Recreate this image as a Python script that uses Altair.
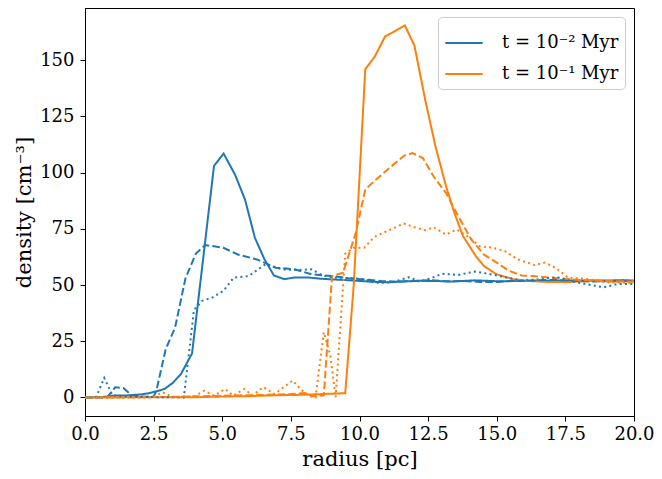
import altair as alt
import pandas as pd

# ---- data ----
blue_solid_r = [0, 0.8, 1.0, 1.5, 2.0, 2.3, 2.6, 2.9, 3.2, 3.5, 3.9, 4.7, 5.05, 5.47, 5.83, 6.19, 6.54, 6.88,
                7.26, 7.64, 8.1, 8.6, 9.2, 9.8, 10.4, 11.0, 11.6, 12.2, 12.8, 13.4, 14.2, 15.0, 15.8, 16.6,
                17.4, 18.2, 19.0, 19.6, 20.0]
blue_solid_d = [0, 0.3, 0.8, 0.9, 1.3, 1.8, 2.7, 3.8, 6.5, 10.5, 19.6, 103, 108.5, 99, 88, 71, 61.4, 54.3,
                52.6, 53.4, 53.4, 52.8, 52.4, 52.0, 51.5, 51.2, 51.6, 51.9, 51.8, 51.6, 52.1, 51.7, 51.8, 51.9,
                52.0, 52.0, 52.0, 52.2, 52.0]

blue_dashed_r = [0, 0.8, 1.1, 1.4, 1.7, 2.0, 2.5, 2.6, 2.94, 3.28, 3.66, 4.04, 4.38, 5.04, 5.57, 6.26, 6.95,
                 7.64, 8.25, 9.0, 9.6, 10.2, 10.8, 11.4, 12.0, 12.6, 13.2, 13.8, 14.4, 15.0, 15.6, 16.2,
                 17.0, 17.6, 18.4, 19.2, 20.0]
blue_dashed_d = [0, 0, 4.5, 4.2, 1.0, 0.5, 0.3, 3, 21.5, 31, 53, 64, 67.8, 66.6, 63.6, 61.4, 57.7,
                 57, 54.8, 54, 53, 52.5, 51.8, 51.5, 51.8, 52.2, 51.6, 51.8, 51.4, 51.4, 51.8, 52.0,
                 52.3, 52.0, 51.6, 51.8, 51.8]

blue_dotted_r = [0, 0.4, 0.7, 1.0, 1.3, 2.0, 3.0, 3.6, 3.97, 4.27, 4.65, 5.04, 5.42, 5.96, 6.57, 7.18, 7.72,
                 8.25, 8.7, 9.17, 9.8, 10.2, 10.6, 11.2, 11.8, 12.2, 12.6, 13.0, 13.6, 14.2, 14.7, 15.3,
                 15.9, 16.5, 17.2, 17.8, 18.3, 18.9, 19.4, 20.0]
blue_dotted_d = [0, 0, 8.7, 1, 0.5, 0.2, 0.1, 0, 39, 43, 44.5, 47.4, 53.3, 54, 59.2, 57, 56.7,
                 57, 54, 53.3, 53, 52.5, 51, 51.2, 53.5, 51.5, 53, 55, 54.5, 56, 55, 53.5,
                 52, 52.5, 53.5, 51.5, 50.3, 49, 50.5, 50.5]

orange_solid_r = [0, 4.0, 5.0, 6.0, 7.0, 8.0, 8.6, 9.48, 9.79, 10.21, 10.55, 10.93, 11.24, 11.65, 12.0, 12.4,
                  12.77, 13.15, 13.46, 13.77, 14.23, 14.53, 14.99, 15.6, 16.2, 16.8, 17.5, 18.4, 19.2, 20.0]
orange_solid_d = [0, 0.1, 0.4, 0.6, 1.0, 1.2, 1.5, 1.9, 50, 146, 151.5, 160.6, 162.6, 165.5, 156.6, 132,
                  111.6, 94, 82, 71.8, 63, 58.5, 54.8, 52.6, 51.8, 51.4, 51.3, 51.8, 51.6, 51.7]

orange_dashed_r = [0, 3.0, 4.5, 5.5, 6.5, 7.5, 8.0, 8.3, 8.7, 9.0, 9.4, 9.86, 10.21, 10.7, 11.16, 11.62, 11.93,
                   12.31, 12.7, 13.15, 13.6, 14.07, 14.53, 15.0, 15.45, 15.9, 16.7, 17.4, 18.0, 19.0, 20.0]
orange_dashed_d = [0, 0.2, 0.6, 0.9, 1.1, 1.5, 2.0, 0.5, 0.9, 54, 55.5, 73, 92.5, 98, 102.8, 107.5, 108.7,
                   106.5, 98.3, 91, 80.6, 70.3, 63.6, 60, 56.3, 54.3, 53.6, 52.9, 52.2, 51.8, 51.5]

orange_dotted_r = [0, 2.5, 2.8, 3.2, 4.0, 4.35, 4.7, 5.1, 5.4, 5.8, 6.1, 6.5, 6.9, 7.56, 7.95, 8.2, 8.4, 8.7,
                   8.94, 9.13, 9.48, 9.79, 10.17, 10.55, 11.0, 11.62, 12.0, 12.39, 12.7, 13.15, 13.54, 13.92,
                   14.38, 14.84, 15.3, 15.76, 16.37, 16.75, 17.14, 17.6, 18.36, 19.0, 20.0]
orange_dotted_d = [0, 0, 2.4, 0.3, 0.5, 3, 0.8, 3.8, 0.8, 3.8, 0.9, 4.6, 1.5, 7.5, 2.6, 0.5, 0, 29,
                   18.6, 0, 64, 66.6, 66.6, 71.5, 74, 77.4, 75.7, 74.4, 75.7, 72.5, 74.7, 71.8,
                   67.3, 66.6, 65.1, 61.4, 58.9, 60, 57.7, 53.3, 52.6, 51.2, 51.0]

t_labels = ["t = 10⁻² Myr", "t = 10⁻¹ Myr"]
styles = ["solid", "dashed", "dotted"]
x_ticks = [0, 2.5, 5, 7.5, 10, 12.5, 15, 17.5, 20]
y_ticks = [0, 25, 50, 75, 100, 125, 150]

series = [
    (blue_solid_r, blue_solid_d, t_labels[0], "solid", 0),
    (orange_solid_r, orange_solid_d, t_labels[1], "solid", 1),
    (blue_dashed_r, blue_dashed_d, t_labels[0], "dashed", 2),
    (orange_dashed_r, orange_dashed_d, t_labels[1], "dashed", 3),
    (blue_dotted_r, blue_dotted_d, t_labels[0], "dotted", 4),
    (orange_dotted_r, orange_dotted_d, t_labels[1], "dotted", 5),
]

rows = []
for rs, ds, t, s, k in series:
    for i, (r, d) in enumerate(zip(rs, ds)):
        rows.append({"radius": r, "density": d, "time": t, "style": s, "sid": k, "order": i})
df = pd.DataFrame(rows)

FONT = "DejaVu Serif"

chart = alt.Chart(df).mark_line(strokeWidth=2, clip=True).encode(
    x=alt.X("radius:Q", scale=alt.Scale(domain=[0, 20], nice=False, zero=False),
            axis=alt.Axis(title="radius [pc]", values=x_ticks, format=".1f", grid=False,
                          labelFlush=False, labelOverlap=False)),
    y=alt.Y("density:Q", scale=alt.Scale(domain=[-8.25, 173.25], nice=False, zero=False),
            axis=alt.Axis(title="density [cm⁻³]", values=y_ticks, grid=False,
                          labelFlush=False, labelOverlap=False)),
    color=alt.Color("time:N", scale=alt.Scale(domain=t_labels, range=["#1f77b4", "#ff7f0e"]),
                    legend=alt.Legend(title=None, orient="top-right", offset=9, symbolType="stroke",
                                      symbolSize=1400, symbolStrokeWidth=2, labelFont=FONT,
                                      labelFontSize=18, labelColor="black", labelOffset=18,
                                      fillColor="white", strokeColor="#cccccc", cornerRadius=4,
                                      padding=6, rowPadding=2)),
    strokeDash=alt.StrokeDash("style:N", scale=alt.Scale(domain=styles,
                              range=[[1, 0], [7.5, 3.2], [2, 3.3]]), legend=None),
    detail="sid:N",
    order="order:Q",
).properties(
    width=549, height=408,
    autosize=alt.AutoSizeParams(type="none"),
    padding={"left": 77, "top": 0, "right": 20, "bottom": 55},
).configure_view(
    stroke="black", strokeWidth=1,
).configure_axis(
    labelFont=FONT, titleFont=FONT, labelFontSize=18, titleFontSize=21,
    labelColor="black", titleColor="black", titleFontWeight="normal",
    domainColor="black", tickColor="black", tickSize=5,
).configure_axisX(labelPadding=4, titlePadding=5).configure_axisY(labelPadding=6, titlePadding=5)

chart.save("out.html", embed_options={"renderer": "svg", "actions": False})
